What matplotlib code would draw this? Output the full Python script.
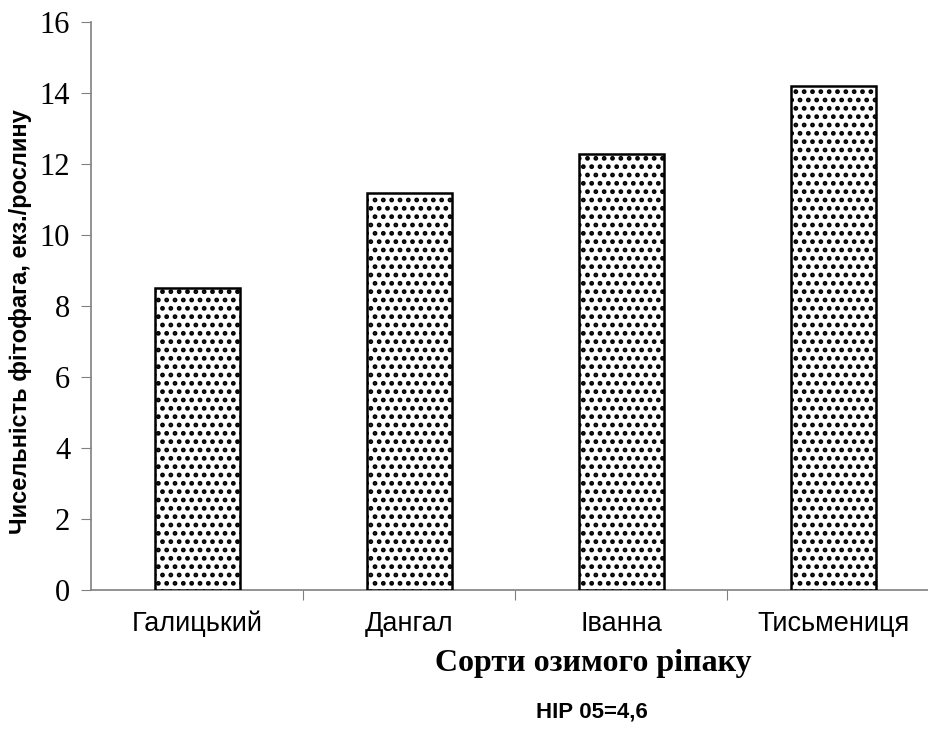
import matplotlib
matplotlib.use('Agg')
import matplotlib.pyplot as plt

# чисельність фітофага по сортах
sorts = ['Галицький', 'Дангал', 'Іванна', 'Тисьмениця']
values = [8.5, 11.2, 12.3, 14.2]
yticks = [0, 2, 4, 6, 8, 10, 12, 14, 16]

plt.rcParams['hatch.linewidth'] = 2.2

fig = plt.figure(figsize=(9.29, 7.40), dpi=100)
ax = fig.add_axes([0.098, 0.2027, 0.902, 0.7673])

x = range(len(sorts))
ax.bar(x, values, width=0.4, color='white', edgecolor='black',
       linewidth=1.8, hatch='..', zorder=3)

ax.set_xlim(-0.5, 3.45)
ax.set_ylim(0, 16)
ax.set_yticks(yticks)
ax.set_yticklabels([str(t) for t in yticks], family='Liberation Serif', fontsize=22)
ax.set_xticks([0.5, 1.5, 2.5])
ax.set_xticklabels([])
ax.set_xticks(list(x), minor=True)
ax.set_xticklabels(sorts, minor=True, family='Liberation Sans', fontsize=19.5)
ax.tick_params(axis='x', which='minor', length=0, pad=15)
ax.tick_params(axis='x', which='major', length=7, direction='out', color='#808080')
ax.tick_params(axis='y', length=7, direction='out', color='#808080', pad=8)

for side in ['top', 'right']:
    ax.spines[side].set_visible(False)
for side in ['left', 'bottom']:
    ax.spines[side].set_color('#808080')
    ax.spines[side].set_linewidth(1.2)

ax.set_ylabel('Чисельність фітофага, екз./рослину', family='Liberation Sans',
              fontweight='bold', fontsize=17)
ax.yaxis.set_label_coords(-0.071, 0.472)
ax.set_xlabel('Сорти озимого ріпаку', family='Liberation Serif',
              fontweight='bold', fontsize=23)
ax.xaxis.set_label_coords(0.599, -0.104)
fig.text(0.637, 0.038, 'НІР 05=4,6', family='Liberation Sans',
         fontweight='bold', fontsize=16, ha='center', va='center')

fig.savefig('out.png', dpi=100)
